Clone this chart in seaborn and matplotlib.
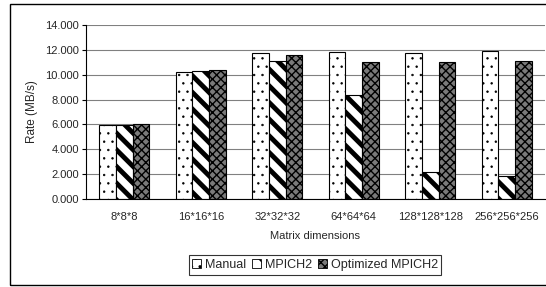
import matplotlib
matplotlib.use("Agg")
import matplotlib.pyplot as plt
from matplotlib.patches import Rectangle
import seaborn as sns
import pandas as pd

# values
categories = ["8*8*8", "16*16*16", "32*32*32", "64*64*64", "128*128*128", "256*256*256"]
series = ["Manual", "MPICH2", "Optimized MPICH2"]
manual = [5.95, 10.18, 11.75, 11.80, 11.75, 11.88]
mpich2 = [5.95, 10.30, 11.07, 8.36, 2.15, 1.85]
optimized = [6.02, 10.35, 11.56, 11.02, 11.02, 11.07]
yticks = [0, 2, 4, 6, 8, 10, 12, 14]

df = pd.DataFrame({
    "dims": categories * 3,
    "rate": manual + mpich2 + optimized,
    "series": [s for s in series for _ in categories],
})

sns.set_style("white")
plt.rcParams["font.family"] = ["Liberation Sans", "DejaVu Sans"]

fig = plt.figure(figsize=(5.46, 2.87), dpi=100)
# outer chart frame
fig.patches.append(Rectangle((10 / 546, 2 / 287), 540 / 546, 281 / 287, transform=fig.transFigure,
                             fill=False, edgecolor="black", linewidth=1.0))
ax = fig.add_axes([86 / 546, 1 - 199 / 287, 459 / 546, 174 / 287])

sns.barplot(data=df, x="dims", y="rate", hue="series", hue_order=series, order=categories,
            width=0.66, gap=0, ax=ax, legend=False, edgecolor="black", linewidth=0.8)

styles = [
    dict(facecolor="white", hatch="..", hlw=0.5),
    dict(facecolor="white", hatch="\\\\", hlw=3.5),
    dict(facecolor="#7a7a7a", hatch="xxxx", hlw=1.0),
]
for cont, st in zip(ax.containers, styles):
    for bar in cont:
        bar.set_facecolor(st["facecolor"])
        bar.set_hatch(st["hatch"])
        if hasattr(bar, "set_hatch_linewidth"):
            bar.set_hatch_linewidth(st["hlw"])

ax.set_ylim(0, 14)
ax.set_yticks(yticks)
ax.set_yticklabels([f"{v:.3f}" for v in yticks], fontsize=8)
ax.yaxis.grid(True, color="#808080", linewidth=0.8)
ax.set_axisbelow(True)
ax.set_xlim(-0.5, len(categories) - 0.5)
ax.set_xticks(range(len(categories)))
ax.set_xticklabels(categories, fontsize=8)
ax.set_xticks([i + 0.5 for i in range(len(categories) - 1)], minor=True)
ax.tick_params(axis="x", which="major", length=0, pad=9)
ax.tick_params(axis="x", which="minor", length=3, direction="out", color="black")
ax.tick_params(axis="y", length=3, direction="out", color="black", pad=2, left=True)
for side in ["top", "right"]:
    ax.spines[side].set_visible(False)
for side in ["left", "bottom"]:
    ax.spines[side].set_color("black")
    ax.spines[side].set_linewidth(0.8)
ax.set_xlabel("Matrix dimensions", fontsize=8, labelpad=7)
ax.set_ylabel("Rate (MB/s)", fontsize=8.5, labelpad=5)

handles = []
for st in styles:
    h = Rectangle((0, 0), 1, 1, facecolor=st["facecolor"], hatch=st["hatch"], edgecolor="black",
                  linewidth=0.6)
    if hasattr(h, "set_hatch_linewidth"):
        h.set_hatch_linewidth(min(st["hlw"], 1.5))
    handles.append(h)
leg = fig.legend(handles, series, loc="center", bbox_to_anchor=(315 / 546, 1 - 265 / 287), ncol=3,
                 fontsize=9, frameon=True, fancybox=False, edgecolor="black", handlelength=0.7,
                 handleheight=0.7, handletextpad=0.3, columnspacing=0.5, borderpad=0.3)
leg.get_frame().set_linewidth(0.8)

fig.savefig("out.png", dpi=100)
